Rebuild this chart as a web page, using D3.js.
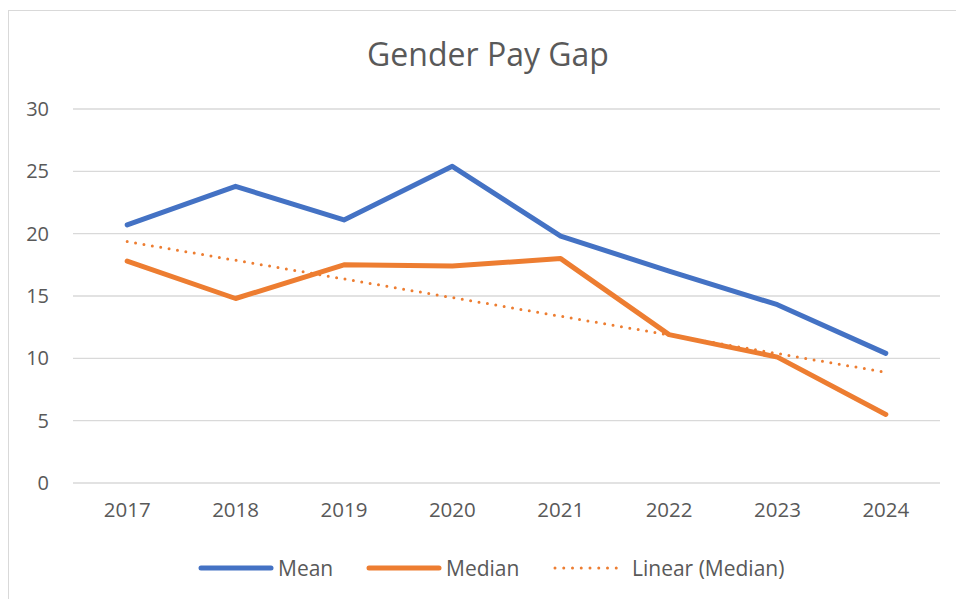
<!DOCTYPE html>
<html>
<head>
<meta charset="utf-8">
<script src="https://cdn.jsdelivr.net/npm/d3@7"></script>
<style>
  body { margin: 0; background: #fff; }
  text { font-family: "Open Sans", Lato, sans-serif; fill: #595959; }
</style>
</head>
<body>
<svg id="chart" width="956" height="599"></svg>
<script>
var years = ["2017", "2018", "2019", "2020", "2021", "2022", "2023", "2024"];
var mean = [20.7, 23.8, 21.1, 25.4, 19.8, 17.0, 14.3, 10.4];
var median = [17.8, 14.8, 17.5, 17.4, 18.0, 11.9, 10.1, 5.5];
var yTicks = [0, 5, 10, 15, 20, 25, 30];

var svg = d3.select("#chart"),
    margin = {top: 109, right: 16, bottom: 116, left: 73},
    width = +svg.attr("width") - margin.left - margin.right,
    height = +svg.attr("height") - margin.top - margin.bottom;

// chart border
svg.append("rect")
    .attr("x", 8.5).attr("y", 10.5)
    .attr("width", 960).attr("height", 600)
    .attr("fill", "#fff")
    .attr("stroke", "#d9d9d9");

var x = d3.scaleBand().domain(years).range([0, width]);
var y = d3.scaleLinear().domain([0, 30]).range([height, 0]);

var g = svg.append("g")
    .attr("transform", "translate(" + margin.left + "," + margin.top + ")");

// gridlines
g.selectAll(".grid")
  .data(yTicks)
  .enter().append("line")
    .attr("x1", 0).attr("x2", width)
    .attr("y1", function(d) { return y(d); })
    .attr("y2", function(d) { return y(d); })
    .attr("stroke", "#d9d9d9")
    .attr("stroke-width", 1.3);

var yAxis = g.append("g")
    .call(d3.axisLeft(y).tickValues(yTicks).tickSize(0).tickPadding(24));
yAxis.select(".domain").remove();
yAxis.selectAll("text").style("font-size", "20px").attr("fill", "#595959");

var xAxis = g.append("g")
    .attr("transform", "translate(0," + height + ")")
    .call(d3.axisBottom(x).tickSize(0).tickPadding(19));
xAxis.select(".domain").remove();
xAxis.selectAll("text").style("font-size", "20.5px").attr("fill", "#595959");

var px = function(d, i) { return x(years[i]) + x.bandwidth() / 2; };

var line = d3.line()
    .x(px)
    .y(function(d) { return y(d); });

// linear trendline of the median series (least squares)
var n = median.length,
    xm = d3.mean(median, function(d, i) { return i; }),
    ym = d3.mean(median),
    sxy = d3.sum(median, function(d, i) { return (i - xm) * (d - ym); }),
    sxx = d3.sum(median, function(d, i) { return (i - xm) * (i - xm); }),
    slope = sxy / sxx,
    icpt = ym - slope * xm;
var trend = [icpt, icpt + slope * (n - 1)];

g.append("path")
    .datum(mean)
    .attr("d", line)
    .attr("fill", "none")
    .attr("stroke", "#4472c4")
    .attr("stroke-width", 5)
    .attr("stroke-linecap", "round")
    .attr("stroke-linejoin", "round");

g.append("path")
    .datum(median)
    .attr("d", line)
    .attr("fill", "none")
    .attr("stroke", "#ed7d31")
    .attr("stroke-width", 5)
    .attr("stroke-linecap", "round")
    .attr("stroke-linejoin", "round");

g.append("line")
    .attr("x1", px(0, 0)).attr("x2", px(0, n - 1))
    .attr("y1", y(trend[0])).attr("y2", y(trend[1]))
    .attr("stroke", "#ed7d31")
    .attr("stroke-width", 3)
    .attr("stroke-linecap", "round")
    .attr("stroke-dasharray", "0,8.5");

// title
svg.append("text")
    .attr("x", 488).attr("y", 66)
    .attr("text-anchor", "middle")
    .style("font-size", "32px")
    .text("Gender Pay Gap");

// legend
var legend = [
  {name: "Mean", color: "#4472c4", x: 201, dash: null, w: 5},
  {name: "Median", color: "#ed7d31", x: 369, dash: null, w: 5},
  {name: "Linear (Median)", color: "#ed7d31", x: 555, dash: "0,8.75", w: 3}
];
var lg = svg.selectAll(".legend").data(legend).enter().append("g");
lg.append("line")
    .attr("x1", function(d) { return d.x; })
    .attr("x2", function(d) { return d.x + 70; })
    .attr("y1", 568).attr("y2", 568)
    .attr("stroke", function(d) { return d.color; })
    .attr("stroke-width", function(d) { return d.w; })
    .attr("stroke-linecap", "round")
    .attr("stroke-dasharray", function(d) { return d.dash; });
lg.append("text")
    .attr("x", function(d) { return d.x + 77; })
    .attr("y", 576)
    .style("font-size", "21px")
    .text(function(d) { return d.name; });
</script>
</body>
</html>
